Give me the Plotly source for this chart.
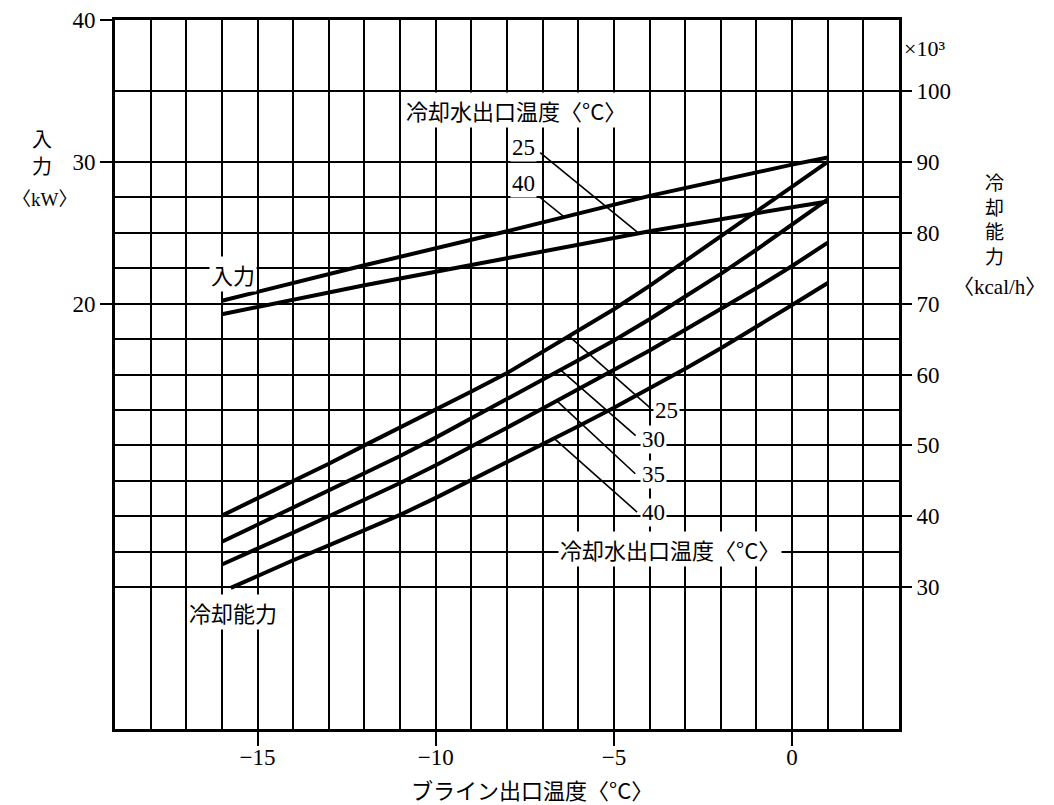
import numpy as np
import plotly.graph_objects as go

# ---------------- data ----------------
# brine outlet temperature (°C) for the cooling-capacity curves
temp_cap = [-16, -15, -14, -13, -12, -11, -10, -9, -8, -7, -6, -5, -4, -3, -2, -1, 0, 1]
temp_cap40 = [-15.75, -15, -14, -13, -12, -11, -10, -9, -8, -7, -6, -5, -4, -3, -2, -1, 0, 1]
# cooling capacity (x10^3 kcal/h) for cooling-water outlet temperature 25/30/35/40 °C
cap_25 = [40.1, 42.5, 45.0, 47.4, 50.0, 52.5, 55.0, 57.6, 60.2, 63.2, 66.2, 69.2, 72.5, 76.0, 79.5, 83.0, 86.5, 90.0]
cap_30 = [36.4, 38.8, 41.2, 43.6, 46.0, 48.5, 51.1, 53.8, 56.5, 59.3, 62.0, 64.8, 67.8, 71.0, 74.2, 77.6, 81.1, 84.7]
cap_35 = [33.2, 35.4, 37.7, 40.0, 42.3, 44.7, 47.2, 49.8, 52.5, 55.2, 57.9, 60.6, 63.4, 66.3, 69.2, 72.2, 75.3, 78.6]
cap_40 = [29.9, 31.6, 33.8, 35.9, 38.0, 40.2, 42.6, 45.1, 47.6, 50.1, 52.7, 55.3, 58.0, 60.8, 63.7, 66.7, 69.8, 72.9]

# input power (kW)
temp_in = [-16, -12, -8, -4, 0, 1]
input_40 = [20.2, 22.7, 25.1, 27.6, 29.8, 30.3]
input_25 = [19.25, 21.3, 23.2, 25.1, 26.8, 27.2]

# axes
x_ticks = [-15, -10, -5, 0]
x_grid = list(range(-18, 3))
kw_ticks = [20, 30, 40]
kcal_ticks = [30, 40, 50, 60, 70, 80, 90, 100]
kcal_minor = [35, 45, 55, 65, 75, 85]

# label texts
water_title = "冷却水出口温度〈°C〉"
cap_labels = ["25", "30", "35", "40"]

NUM_FONT = "Liberation Serif, Noto Sans CJK JP"
CJK_FONT = "Noto Sans CJK JP, Liberation Serif"

fig = go.Figure()

curve = dict(color="black", width=4)
for xs, ys in [(temp_cap, cap_25), (temp_cap, cap_30), (temp_cap, cap_35), (temp_cap40, cap_40)]:
    fig.add_trace(go.Scatter(x=xs, y=ys, mode="lines", line=curve, yaxis="y2",
                             showlegend=False, hoverinfo="skip"))
for ys in [input_40, input_25]:
    fig.add_trace(go.Scatter(x=temp_in, y=ys, mode="lines", line=curve, yaxis="y",
                             showlegend=False, hoverinfo="skip"))

leader = dict(color="black", width=1.6)
# leaders for input curves (kW axis)
fig.add_trace(go.Scatter(x=[-7.07, -4.3], y=[30.65, float(np.interp(-4.3, temp_in, input_25))],
                         mode="lines", line=leader, yaxis="y", showlegend=False, hoverinfo="skip"))
fig.add_trace(go.Scatter(x=[-7.08, -6.39], y=[27.5, float(np.interp(-6.39, temp_in, input_40))],
                         mode="lines", line=leader, yaxis="y", showlegend=False, hoverinfo="skip"))
# leaders for cooling-capacity curves (kcal axis)
lead_specs = [(-6.26, temp_cap, cap_25, -4.0, 55.36),
              (-6.5, temp_cap, cap_30, -4.39, 51.37),
              (-6.6, temp_cap, cap_35, -4.4, 46.0),
              (-6.67, temp_cap40, cap_40, -4.35, 40.6)]
for x0, xs, ys, x1, y1 in lead_specs:
    fig.add_trace(go.Scatter(x=[x0, x1], y=[float(np.interp(x0, xs, ys)), y1], mode="lines",
                             line=leader, yaxis="y2", showlegend=False, hoverinfo="skip"))

ann = []
def lab(text, x, y, yref="y2", size=22, font=CJK_FONT, bg="white", xref="x", **kw):
    d = dict(text=text, x=x, y=y, xref=xref, yref=yref, showarrow=False,
             xanchor="center", yanchor="middle",
             font=dict(family=font, size=size, color="black"))
    if bg:
        d.update(bgcolor=bg, borderpad=1)
    d.update(kw)
    ann.append(d)

# labels inside the plot
lab(water_title, -7.74, 97.28)
lab("25", -7.53, 92.07, font=NUM_FONT, size=23)
lab("40", -7.55, 86.96, font=NUM_FONT, size=23)
lab("入力", -15.68, 22.07, yref="y")
lab("冷却能力", -15.7, 26.5)
lab(water_title, -3.44, 35.4)
for t, x, y in zip(cap_labels, [-3.53, -3.9, -3.9, -3.9], [54.9, 50.87, 45.83, 40.5]):
    lab(t, x, y, font=NUM_FONT, size=23)

# axis titles outside the plot (paper coords)
lab("入", -0.0931, 0.8322, xref="paper", yref="paper", size=20, bg=None)
lab("力", -0.0931, 0.7941, xref="paper", yref="paper", size=20, bg=None)
lab("〈kW〉", -0.0893, 0.7475, xref="paper", yref="paper", size=19, bg=None, font=NUM_FONT)
lab("×10³", 1.0319, 0.9605, xref="paper", yref="paper", size=22, bg=None, font=NUM_FONT)
lab("冷<br>却<br>能<br>力", 1.1224, 0.7207, xref="paper", yref="paper", size=19, bg=None)
lab("〈kcal/h〉", 1.1288, 0.6234, xref="paper", yref="paper", size=21, bg=None, font=NUM_FONT)
lab("ブライン出口温度〈°C〉", 0.5319, -0.0846, xref="paper", yref="paper", size=22, bg=None)

tickfont = dict(family=NUM_FONT, size=23, color="black")
fig.update_layout(
    width=1046, height=797,
    margin=dict(l=107, r=155, t=12, b=76),
    paper_bgcolor="white", plot_bgcolor="white",
    showlegend=False,
    annotations=ann,
    xaxis=dict(range=[-19, 3], tickmode="array", tickvals=x_ticks, automargin=False,
               showgrid=True, gridcolor="black", gridwidth=1.8, zeroline=False,
               minor=dict(tickmode="array", tickvals=x_grid, showgrid=True,
                          gridcolor="black", gridwidth=1.8, ticks=""),
               showline=True, linecolor="black", linewidth=2.6, mirror=True,
               ticks="outside", ticklen=14, tickwidth=1.8, tickcolor="black",
               ticklabelstandoff=-8, ticklabeloverflow="allow",
               tickfont=tickfont),
    yaxis=dict(range=[-10, 40], tickmode="array", tickvals=kw_ticks, automargin=False,
               showgrid=False, zeroline=False,
               showline=True, linecolor="black", linewidth=2.6,
               ticks="outside", ticklen=12, tickwidth=1.8, tickcolor="black",
               ticklabeloverflow="allow",
               tickfont=tickfont),
    yaxis2=dict(range=[10, 110], overlaying="y", side="right", automargin=False,
                tickmode="array", tickvals=kcal_ticks,
                showgrid=True, gridcolor="black", gridwidth=1.8, zeroline=False,
                minor=dict(tickmode="array", tickvals=kcal_minor, showgrid=True,
                           gridcolor="black", gridwidth=1.8, ticks=""),
                showline=True, linecolor="black", linewidth=2.6,
                ticks="outside", ticklen=10, tickwidth=1.8, tickcolor="black",
                ticklabeloverflow="allow",
                tickfont=tickfont),
)

fig.write_html("out.html")
